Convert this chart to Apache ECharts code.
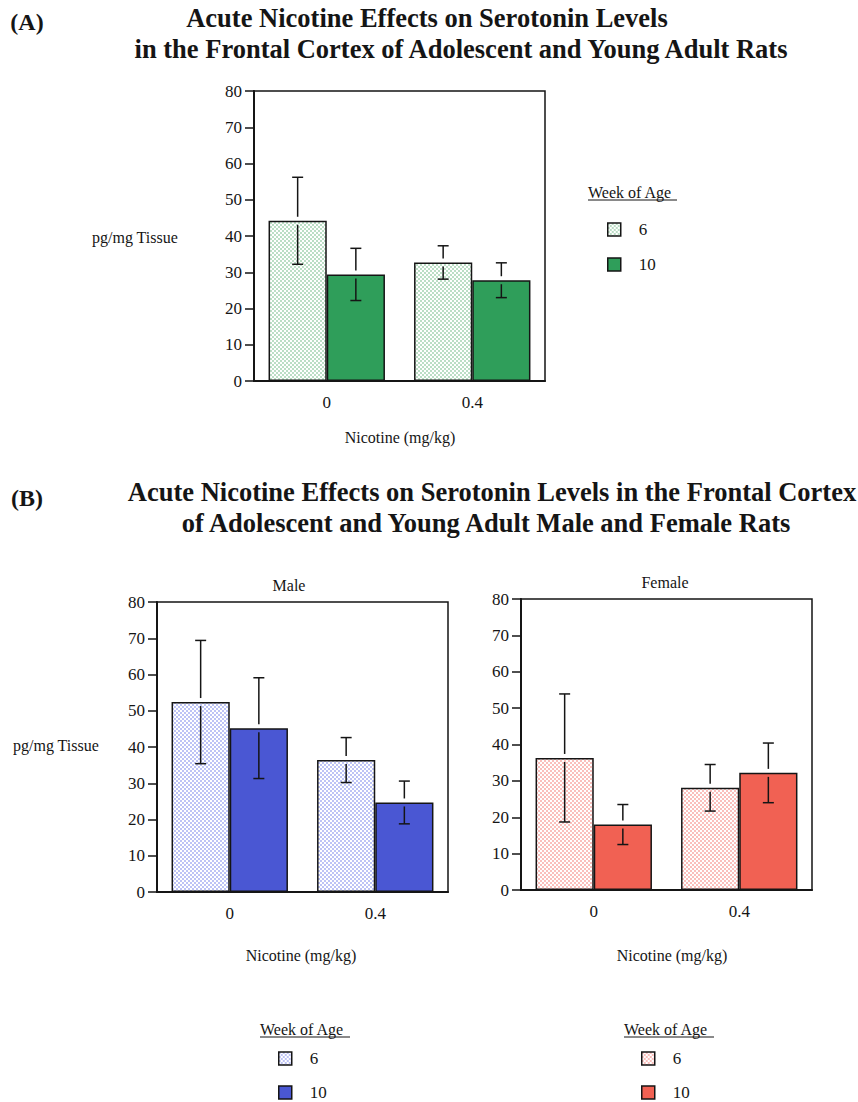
<!DOCTYPE html>
<html><head><meta charset="utf-8">
<script src="https://cdn.jsdelivr.net/npm/echarts@6/dist/echarts.min.js"></script>
<style>html,body{margin:0;padding:0;background:#fff}#c{width:858px;height:1102px}</style>
</head><body><div id="c"></div>
<script>
// ---- data ----
const categories = ['0', '0.4'];
const ageLabels = ['6', '10'];
const yTickMin = 0, yTickMax = 80, yTickStep = 10;

const panelA6 = [44.2, 32.7];
const panelA6Err = [12.0, 4.6];
const panelA10 = [29.4, 27.8];
const panelA10Err = [7.2, 4.8];

const male6 = [52.4, 36.4];
const male6Err = [17.0, 6.2];
const male10 = [45.2, 24.7];
const male10Err = [13.9, 5.9];

const female6 = [36.3, 28.1];
const female6Err = [17.6, 6.4];
const female10 = [18.0, 32.2];
const female10Err = [5.5, 8.2];

// ---- styles ----
const SERIF = 'Liberation Serif, Times New Roman, serif';
const INK = '#151515';
const GREEN = '#2f9e5a', BLUE = '#4a57d3', RED = '#f16153';
const GREEN_DOT = '#2c9a4c', BLUE_DOT = '#3346e0', RED_DOT = '#f03a30';

function dotPattern(col) {
  const c = document.createElement('canvas');
  c.width = 8; c.height = 8;
  const g = c.getContext('2d');
  g.fillStyle = '#ffffff'; g.fillRect(0, 0, 8, 8);
  g.fillStyle = col;
  const pts = [[2, 2], [6, 6]];
  pts.forEach(p => { g.beginPath(); g.arc(p[0], p[1], 1.3, 0, Math.PI * 2); g.fill(); });
  return { image: c.toDataURL(), repeat: 'repeat', imageWidth: 4, imageHeight: 4 };
}

const grids = [
  { left: 254, top: 91, width: 291, height: 290 },
  { left: 157, top: 602, width: 291, height: 290 },
  { left: 521, top: 599, width: 291, height: 291 }
];

function xAx(i) {
  return {
    type: 'category', gridIndex: i, data: categories,
    axisLine: { lineStyle: { color: INK, width: 2 } },
    axisTick: { alignWithLabel: true, length: 10, lineStyle: { color: INK, width: 1.5 } },
    axisLabel: { color: INK, fontFamily: SERIF, fontSize: 17, margin: 13 },
    splitLine: { show: false }
  };
}
function yAx(i) {
  return {
    type: 'value', gridIndex: i, min: yTickMin, max: yTickMax, interval: yTickStep,
    axisLine: { show: true, lineStyle: { color: INK, width: 2 } },
    axisTick: { show: true, length: 9, lineStyle: { color: INK, width: 1.5 } },
    axisLabel: { color: INK, fontFamily: SERIF, fontSize: 17, margin: 12 },
    splitLine: { show: false }
  };
}
function bar(name, data, i, color) {
  return {
    type: 'bar', name, xAxisIndex: i, yAxisIndex: i, data,
    barGap: '0%', barCategoryGap: '20%',
    itemStyle: { color, borderColor: INK, borderWidth: 1.5 },
    emphasis: { disabled: true }, z: 2
  };
}
function errs(means, errors, i, side) {
  return {
    type: 'custom', xAxisIndex: i, yAxisIndex: i, z: 5, silent: true,
    data: means.map((m, k) => [k, m, errors[k]]),
    encode: { x: 0, y: 1 },
    renderItem: function (params, api) {
      const ci = api.value(0), mean = api.value(1), e = api.value(2);
      const band = api.size([1, 0])[0];
      const xc = api.coord([ci, mean])[0] + side * band * 0.2;
      const yHi = api.coord([ci, mean + e])[1];
      const yM = api.coord([ci, mean])[1];
      const yLo = api.coord([ci, mean - e])[1];
      const st = { stroke: INK, lineWidth: 1.5 };
      const cap = 5.5, gap = 4;
      return {
        type: 'group', children: [
          { type: 'line', shape: { x1: xc, y1: yHi, x2: xc, y2: yM - gap }, style: st },
          { type: 'line', shape: { x1: xc, y1: yM + gap, x2: xc, y2: yLo }, style: st },
          { type: 'line', shape: { x1: xc - cap, y1: yHi, x2: xc + cap, y2: yHi }, style: st },
          { type: 'line', shape: { x1: xc - cap, y1: yLo, x2: xc + cap, y2: yLo }, style: st }
        ]
      };
    }
  };
}

function txt(t, x, y, size, bold, align, lh) {
  return {
    type: 'text', x, y, silent: true,
    style: {
      text: t, fill: INK,
      font: (bold ? 'bold ' : '') + size + 'px ' + SERIF,
      lineHeight: lh || size,
      textAlign: align || 'center', align: align || 'center',
      textVerticalAlign: 'middle', verticalAlign: 'middle'
    }
  };
}
function uline(x1, x2, y) {
  return { type: 'line', silent: true, shape: { x1, y1: y, x2, y2: y }, style: { stroke: INK, lineWidth: 1 } };
}

const legendNames = { A6: ageLabels[0], A10: ageLabels[1], M6: ageLabels[0], M10: ageLabels[1], F6: ageLabels[0], F10: ageLabels[1] };
function leg(name, left, top) {
  return {
    data: [name], left, top, orient: 'vertical', icon: 'rect', padding: 0,
    itemWidth: 13, itemHeight: 13, selectedMode: false,
    formatter: n => legendNames[n],
    itemStyle: { borderColor: INK, borderWidth: 1.5 },
    textStyle: { color: INK, fontFamily: SERIF, fontSize: 17, lineHeight: 13, padding: [0, 0, 0, 13] }
  };
}

const option = {
  animation: false,
  backgroundColor: '#ffffff',
  grid: grids.map(g => Object.assign({ show: true, borderColor: INK, borderWidth: 1.5, backgroundColor: 'transparent' }, g)),
  xAxis: [xAx(0), xAx(1), xAx(2)],
  yAxis: [yAx(0), yAx(1), yAx(2)],
  legend: [
    leg('A6', 607, 221), leg('A10', 607, 256),
    leg('M6', 278, 1050), leg('M10', 278, 1084),
    leg('F6', 641, 1050), leg('F10', 641, 1084)
  ],
  series: [
    bar('A6', panelA6, 0, dotPattern(GREEN_DOT)),
    bar('A10', panelA10, 0, GREEN),
    bar('M6', male6, 1, dotPattern(BLUE_DOT)),
    bar('M10', male10, 1, BLUE),
    bar('F6', female6, 2, dotPattern(RED_DOT)),
    bar('F10', female10, 2, RED),
    errs(panelA6, panelA6Err, 0, -1),
    errs(panelA10, panelA10Err, 0, 1),
    errs(male6, male6Err, 1, -1),
    errs(male10, male10Err, 1, 1),
    errs(female6, female6Err, 2, -1),
    errs(female10, female10Err, 2, 1)
  ],
  graphic: [
    txt('(A)', 27, 22, 24, true),
    txt('Acute Nicotine Effects on Serotonin Levels', 427, 18, 26.5, true, 'center', 24),
    txt('in the Frontal Cortex of Adolescent and Young Adult Rats', 461, 49, 26.5, true, 'center', 24),
    txt('pg/mg Tissue', 92, 237, 16, false, 'left'),
    txt('Nicotine (mg/kg)', 400, 437, 16, false),
    txt('Week of Age', 588, 192, 16, false, 'left'),
    uline(588, 677, 200),
    txt('(B)', 27, 498, 24, true),
    txt('Acute Nicotine Effects on Serotonin Levels in the Frontal Cortex', 492, 492, 26.5, true, 'center', 24),
    txt('of Adolescent and Young Adult Male and Female Rats', 486, 523, 26.5, true, 'center', 24),
    txt('Male', 289, 585, 16, false),
    txt('Female', 665, 582, 16, false),
    txt('pg/mg Tissue', 13, 745, 16, false, 'left'),
    txt('Nicotine (mg/kg)', 301, 955, 16, false),
    txt('Nicotine (mg/kg)', 672, 955, 16, false),
    txt('Week of Age', 260, 1029, 16, false, 'left'),
    uline(260, 350, 1037),
    txt('Week of Age', 624, 1029, 16, false, 'left'),
    uline(624, 714, 1037)
  ]
};

const chart = echarts.init(document.getElementById('c'), null, { renderer: 'svg', width: 858, height: 1102 });
chart.setOption(option);
</script>
</body></html>
